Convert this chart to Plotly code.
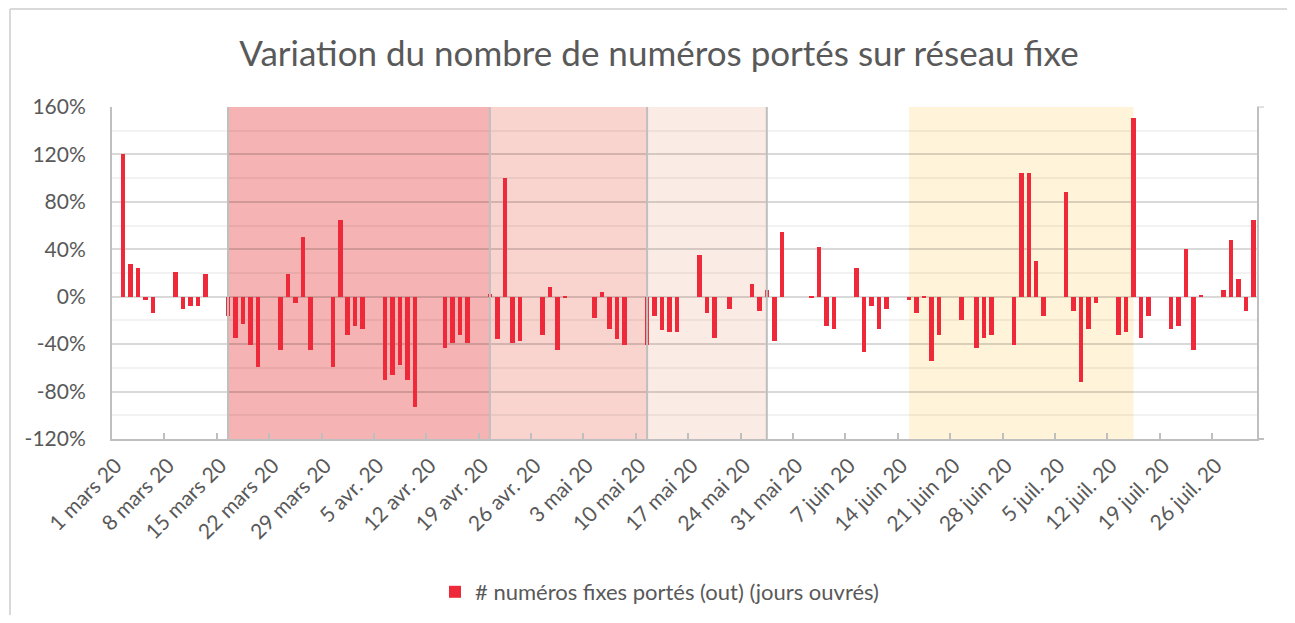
import plotly.graph_objects as go

# ---- data ----
dates = [
    "2020-03-02", "2020-03-03", "2020-03-04", "2020-03-05", "2020-03-06",
    "2020-03-09", "2020-03-10", "2020-03-11", "2020-03-12", "2020-03-13",
    "2020-03-16", "2020-03-17", "2020-03-18", "2020-03-19", "2020-03-20",
    "2020-03-23", "2020-03-24", "2020-03-25", "2020-03-26", "2020-03-27",
    "2020-03-30", "2020-03-31", "2020-04-01", "2020-04-02", "2020-04-03",
    "2020-04-06", "2020-04-07", "2020-04-08", "2020-04-09", "2020-04-10",
    "2020-04-14", "2020-04-15", "2020-04-16", "2020-04-17",
    "2020-04-20", "2020-04-21", "2020-04-22", "2020-04-23", "2020-04-24",
    "2020-04-27", "2020-04-28", "2020-04-29", "2020-04-30",
    "2020-05-04", "2020-05-05", "2020-05-06", "2020-05-07", "2020-05-08",
    "2020-05-11", "2020-05-12", "2020-05-13", "2020-05-14", "2020-05-15",
    "2020-05-18", "2020-05-19", "2020-05-20", "2020-05-22",
    "2020-05-25", "2020-05-26", "2020-05-27", "2020-05-28", "2020-05-29",
    "2020-06-02", "2020-06-03", "2020-06-04", "2020-06-05",
    "2020-06-08", "2020-06-09", "2020-06-10", "2020-06-11", "2020-06-12",
    "2020-06-15", "2020-06-16", "2020-06-17", "2020-06-18", "2020-06-19",
    "2020-06-22", "2020-06-24", "2020-06-25", "2020-06-26",
    "2020-06-29", "2020-06-30", "2020-07-01", "2020-07-02", "2020-07-03",
    "2020-07-06", "2020-07-07", "2020-07-08", "2020-07-09", "2020-07-10",
    "2020-07-13", "2020-07-14", "2020-07-15", "2020-07-16", "2020-07-17",
    "2020-07-20", "2020-07-21", "2020-07-22", "2020-07-23", "2020-07-24",
    "2020-07-27", "2020-07-28", "2020-07-29", "2020-07-30", "2020-07-31",
]
variation_pct = [
    120, 28, 24, -3, -14,
    21, -10, -8, -8, 19,
    -16, -35, -23, -41, -59,
    -45, 19, -5, 50, -45,
    -59, 65, -32, -25, -27,
    -70, -66, -58, -70, -93,
    -43, -39, -32, -39,
    2, -36, 100, -39, -37,
    -32, 8, -45, -1,
    -18, 4, -27, -36, -41,
    -41, -16, -28, -30, -30,
    35, -14, -35, -10,
    11, -12, 6, -37, 55,
    -1, 42, -25, -27,
    24, -47, -8, -27, -10,
    -3, -14, -1, -54, -32,
    -20, -43, -35, -32,
    -41, 104, 104, 30, -16,
    88, -12, -72, -27, -5,
    -32, -30, 151, -35, -16,
    -27, -25, 40, -45, 1,
    6, 48, 15, -12, 65,
]

tick_dates = [
    "2020-03-01", "2020-03-08", "2020-03-15", "2020-03-22", "2020-03-29",
    "2020-04-05", "2020-04-12", "2020-04-19", "2020-04-26", "2020-05-03",
    "2020-05-10", "2020-05-17", "2020-05-24", "2020-05-31", "2020-06-07",
    "2020-06-14", "2020-06-21", "2020-06-28", "2020-07-05", "2020-07-12",
    "2020-07-19", "2020-07-26",
]
tick_labels = [
    "1 mars 20", "8 mars 20", "15 mars 20", "22 mars 20", "29 mars 20",
    "5 avr. 20", "12 avr. 20", "19 avr. 20", "26 avr. 20", "3 mai 20",
    "10 mai 20", "17 mai 20", "24 mai 20", "31 mai 20", "7 juin 20",
    "14 juin 20", "21 juin 20", "28 juin 20", "5 juil. 20", "12 juil. 20",
    "19 juil. 20", "26 juil. 20",
]
y_tickvals = [-120, -80, -40, 0, 40, 80, 120, 160]
y_ticktext = ["-120%", "-80%", "-40%", "0%", "40%", "80%", "120%", "160%"]

# shaded periods (start, end, colour, border line)
periods = [
    ("2020-03-16 12:00", "2020-04-20 12:00", "#F6B3B3", True),
    ("2020-04-20 12:00", "2020-05-11 12:00", "#F9D3CE", True),
    ("2020-05-11 12:00", "2020-05-27 12:00", "#FBEBE5", True),
    ("2020-06-15 12:00", "2020-07-15 12:00", "#FFF4D9", False),
]

title_text = "Variation du nombre de numéros portés sur réseau fixe"
series_name = "# numéros fixes portés (out) (jours ouvrés)"

FONT = "Lato, 'Open Sans', sans-serif"
TXT = "#595959"
DAY_MS = 86400000

W, H = 1279, 607  # page body has an 8px margin on each side

x_centers = [d + " 12:00" for d in dates]

fig = go.Figure()
fig.add_trace(go.Bar(
    x=x_centers, y=variation_pct, name=series_name,
    marker=dict(color="#EE2A3A", line=dict(width=0)),
    width=[0.6 * DAY_MS] * len(dates),
    showlegend=True,
))

shapes = []
for x0, x1, col, border in periods:
    shapes.append(dict(type="rect", xref="x", yref="paper", x0=x0, x1=x1, y0=0, y1=1,
                       fillcolor=col, line=dict(width=0), layer="below"))
line_x = []
for x0, x1, col, border in periods:
    if border:
        for xv in (x0, x1):
            if xv not in line_x:
                line_x.append(xv)
for xv in line_x:
    shapes.append(dict(type="line", xref="x", yref="paper", x0=xv, x1=xv, y0=0, y1=1,
                       line=dict(color="#BFBFBF", width=2), layer="above"))
# top gridline and bottom axis run a little past the right border
ext = 1 + 7 / 1145
shapes.append(dict(type="line", xref="paper", yref="paper", x0=1, x1=ext, y0=1, y1=1,
                   line=dict(color="#D9D9D9", width=1.5), layer="below"))
shapes.append(dict(type="line", xref="paper", yref="paper", x0=1, x1=ext, y0=0, y1=0,
                   line=dict(color="#BFBFBF", width=2), layer="below"))
# outer chart frame: only top and left edges are inside the view
fx0, fx1 = (10 - 112) / 1145, (1300 - 112) / 1145
fy_top, fy_bot = (439 - 9) / 332, -(640 - 439) / 332
shapes.append(dict(type="line", xref="paper", yref="paper", x0=fx0, x1=fx1, y0=fy_top, y1=fy_top,
                   line=dict(color="#D9D9D9", width=2), layer="below"))
shapes.append(dict(type="line", xref="paper", yref="paper", x0=fx0, x1=fx0, y0=fy_top, y1=fy_bot,
                   line=dict(color="#D9D9D9", width=2), layer="below"))

fig.update_layout(
    width=W, height=H, autosize=False,
    margin=dict(l=104, r=30, t=99, b=176, autoexpand=False),
    paper_bgcolor="white", plot_bgcolor="rgba(0,0,0,0)",
    font=dict(family=FONT, color=TXT, size=21),
    title=dict(text=title_text, x=(659 - 8) / W, xanchor="center",
               y=1 - (54 - 8) / H, yanchor="middle",
               font=dict(family=FONT, size=35, color=TXT)),
    shapes=shapes,
    bargap=0,
    showlegend=True,
    legend=dict(orientation="h", xref="container", yref="container",
                x=(435 - 8) / W, xanchor="left",
                y=1 - (592 - 8) / H, yanchor="middle",
                font=dict(family=FONT, size=22, color=TXT), bgcolor="rgba(0,0,0,0)"),
)

fig.update_xaxes(
    type="date",
    range=["2020-03-01", "2020-08-01"],
    tickmode="array",
    tickvals=[d + " 12:00" for d in tick_dates],
    ticktext=tick_labels,
    tickangle=-45,
    ticks="",
    ticklabelstandoff=4,
    automargin=False,
    showgrid=False,
    showline=True, linecolor="#BFBFBF", linewidth=2,
    tickfont=dict(family=FONT, size=21, color=TXT),
    minor=dict(tickmode="array", tickvals=tick_dates[1:], ticks="inside", ticklen=6,
               tickcolor="#BFBFBF", tickwidth=1.5, showgrid=False),
)
fig.update_yaxes(
    range=[-120, 160],
    tickmode="array", tickvals=y_tickvals, ticktext=y_ticktext,
    showgrid=True, gridcolor="rgba(0,0,0,0.15)", gridwidth=1.5,
    zeroline=True, zerolinecolor="rgba(0,0,0,0.15)", zerolinewidth=1.5,
    showline=True, linecolor="#BFBFBF", linewidth=2, mirror=True,
    ticks="", ticklabelstandoff=20, automargin=False,
    tickfont=dict(family=FONT, size=21, color=TXT),
    minor=dict(tickmode="linear", tick0=-100, dtick=40, showgrid=True,
               gridcolor="rgba(0,0,0,0.05)", gridwidth=1.5, ticks=""),
)

fig.write_html("out.html")
